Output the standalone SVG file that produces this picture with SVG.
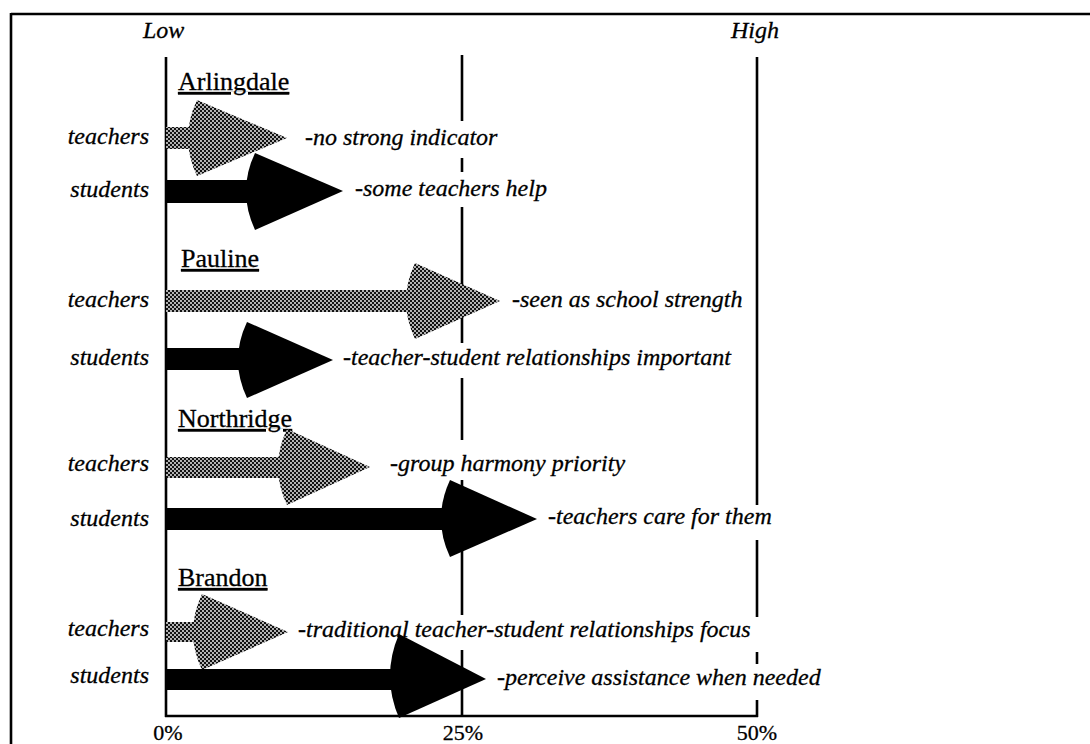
<svg xmlns="http://www.w3.org/2000/svg" width="1090" height="744" viewBox="0 0 1090 744">
  <style>
    .txt { font-family: "Liberation Serif", "Times New Roman", serif; fill: #000; stroke: #000; stroke-width: 0.3; }
    .it { font-style: italic; font-size: 24px; }
    .row { text-anchor: end; }
    .site { font-size: 26px; text-decoration: underline; }
    .pct { font-size: 22px; text-anchor: middle; }
    .rule { stroke: #000; stroke-width: 2.6; fill: none; }
    .solid { fill: #000; }
    .dots { fill: url(#stipple); }
  </style>
  <defs>
    <!-- fine halftone used for the teacher bars -->
    <pattern id="stipple" patternUnits="userSpaceOnUse" width="4" height="4">
      <rect width="4" height="4" fill="#111"/>
      <circle cx="1" cy="1" r="0.9" fill="#fff"/>
      <circle cx="3" cy="3" r="0.9" fill="#fff"/>
    </pattern>
  </defs>

  <rect width="1090" height="744" fill="#fff"/>

  <!-- outer frame (top and left edges) -->
  <g id="frame">
    <line class="rule" x1="11" y1="14" x2="1090" y2="14"/>
    <line class="rule" x1="11" y1="13" x2="11" y2="744"/>
  </g>

  <!-- scale: axis, 25% and 50% rules, end labels -->
  <g id="scale">
    <line class="rule" x1="166" y1="57" x2="166" y2="717"/>
    <line class="rule" x1="165" y1="716" x2="758" y2="716"/>
    <path class="rule" d="M462,55V121 M462,158V172 M462,207V343 M462,378V440 M462,480V615 M462,650V716"/>
    <path class="rule" d="M757,57V505 M757,540V617 M757,652V664 M757,700V717"/>
    <text class="txt it" x="143" y="38">Low</text>
    <text class="txt it" x="731" y="38">High</text>
    <text class="txt pct" x="168" y="740">0%</text>
    <text class="txt pct" x="463" y="740">25%</text>
    <text class="txt pct" x="757" y="740">50%</text>
  </g>

  <!-- Arlingdale -->
  <g id="arlingdale">
    <text class="txt site" x="178" y="90">Arlingdale</text>
    <text class="txt it row" x="149" y="144">teachers</text>
    <text class="txt it row" x="149" y="197">students</text>
    <g class="dots">
      <rect x="166" y="127" width="26" height="22"/>
      <path d="M197,100 L287,138 L197,176 Q179,138 197,100 Z"/>
    </g>
    <g class="solid">
      <rect x="166" y="180" width="84" height="23"/>
      <path d="M255,153 L343,191 L255,230 Q237,191 255,153 Z"/>
    </g>
    <text class="txt it" x="305" y="145">-no strong indicator</text>
    <text class="txt it" x="355" y="196">-some teachers help</text>
  </g>

  <!-- Pauline -->
  <g id="pauline">
    <text class="txt site" x="181" y="267">Pauline</text>
    <text class="txt it row" x="149" y="307">teachers</text>
    <text class="txt it row" x="149" y="365">students</text>
    <g class="dots">
      <rect x="166" y="290" width="244" height="22"/>
      <path d="M415,263 L500,301 L415,339 Q397,301 415,263 Z"/>
    </g>
    <g class="solid">
      <rect x="166" y="348" width="76" height="22"/>
      <path d="M247,322 L333,360 L247,398 Q229,360 247,322 Z"/>
    </g>
    <text class="txt it" x="512" y="307">-seen as school strength</text>
    <text class="txt it" x="343" y="365">-teacher-student relationships important</text>
  </g>

  <!-- Northridge -->
  <g id="northridge">
    <text class="txt site" x="178" y="427">Northridge</text>
    <text class="txt it row" x="149" y="471">teachers</text>
    <text class="txt it row" x="149" y="526">students</text>
    <g class="dots">
      <rect x="166" y="457" width="116" height="21"/>
      <path d="M287,429 L370,467 L287,505 Q269,467 287,429 Z"/>
    </g>
    <g class="solid">
      <rect x="166" y="508" width="279" height="22"/>
      <path d="M450,480 L537,519 L450,557 Q432,519 450,480 Z"/>
    </g>
    <text class="txt it" x="390" y="471">-group harmony priority</text>
    <text class="txt it" x="548" y="524">-teachers care for them</text>
  </g>

  <!-- Brandon -->
  <g id="brandon">
    <text class="txt site" x="178" y="586">Brandon</text>
    <text class="txt it row" x="149" y="636">teachers</text>
    <text class="txt it row" x="149" y="683">students</text>
    <g class="dots">
      <rect x="166" y="622" width="31" height="20"/>
      <path d="M202,594 L288,632 L202,670 Q184,632 202,594 Z"/>
    </g>
    <g class="solid">
      <rect x="166" y="669" width="228" height="21"/>
      <path d="M399,634 L486,679 L399,718 Q381,676 399,634 Z"/>
    </g>
    <text class="txt it" x="298" y="637">-traditional teacher-student relationships focus</text>
    <text class="txt it" x="497" y="685">-perceive assistance when needed</text>
  </g>
</svg>
